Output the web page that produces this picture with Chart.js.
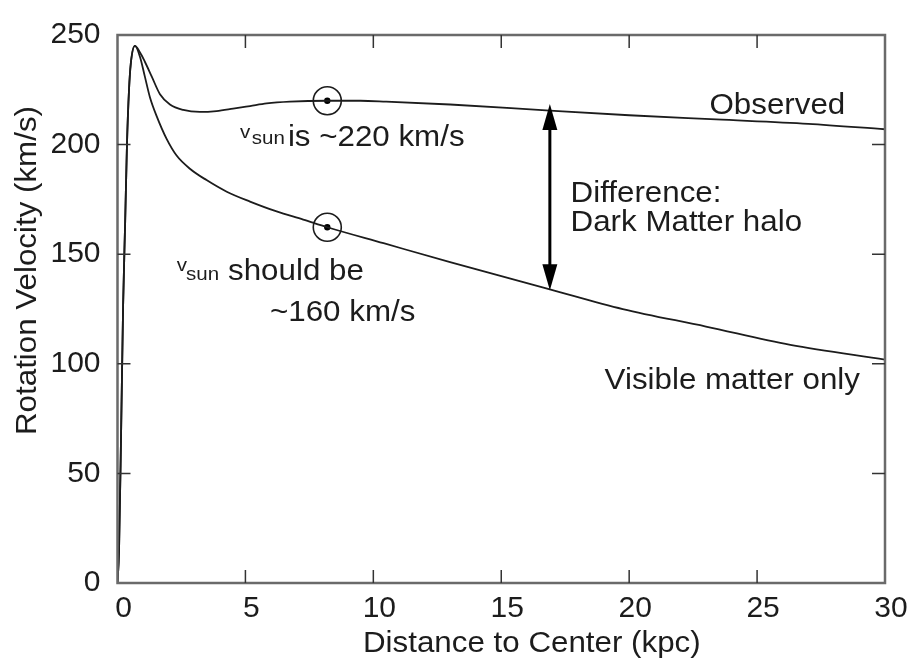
<!DOCTYPE html>
<html>
<head>
<meta charset="utf-8">
<script src="https://cdn.jsdelivr.net/npm/chart.js@4/dist/chart.umd.min.js"></script>
<style>
  html, body { margin: 0; padding: 0; background: #fff; }
  #rotation { display: block; }
</style>
</head>
<body>
<canvas id="rotation" width="912" height="660"></canvas>
<script>
const FONT = "'Liberation Sans', Arial, sans-serif";
const INK = "#1c1c1c";

// distance (kpc) vs rotation velocity (km/s)
const observedKpc = [0, 0.06, 0.14, 0.22, 0.3, 0.37, 0.45, 0.52, 0.68, 0.88, 1.07, 1.34, 1.66, 2.05, 2.57, 3.22, 3.87, 4.52, 5.18, 5.83, 6.74, 8.2, 9.5, 10.5, 13, 16.9, 20, 23.4, 27, 30];
const observedVel = [0, 15, 68, 127, 165, 200, 225, 237, 245, 242, 237.8, 231, 223, 218.3, 215.8, 214.9, 215.3, 216.4, 217.6, 218.8, 219.6, 220, 220, 219.6, 218.3, 215.5, 213.4, 211.5, 209.5, 207];

const visibleKpc = [0, 0.06, 0.14, 0.22, 0.3, 0.37, 0.45, 0.52, 0.68, 0.88, 1.07, 1.27, 1.53, 1.92, 2.31, 2.83, 3.48, 4.27, 5.18, 6.22, 7.26, 8.2, 10.4, 13, 16.9, 19.75, 23, 26.3, 30];
const visibleVel = [0, 15, 68, 127, 165, 200, 225, 237, 245, 240, 231, 221.5, 213, 202.6, 195, 189, 183.8, 178.5, 174, 169.5, 165.8, 162.3, 155, 146.4, 134, 125, 117, 108.6, 101.9];

// the sun's position on both curves
const sunKpc = [8.2, 8.2];
const sunVel = [220, 162.3];

const xTicks = [0, 5, 10, 15, 20, 25, 30];
const yTicks = [0, 50, 100, 150, 200, 250];

// dark matter arrow
const haloKpc = 16.9;
const haloTop = 218.5;
const haloBottom = 133.5;

const toPoints = (xs, ys) => xs.map((v, i) => ({ x: v, y: ys[i] }));

function stretched(ctx, str, x, y, size) {
    ctx.save();
    ctx.font = size + "px " + FONT;
    ctx.translate(x, y);
    ctx.scale(1.08, 1);
    ctx.fillText(str, 0, 0);
    ctx.restore();
}

const sketch = {
    id: "sketch",
    afterDraw(chart) {
        const { ctx, chartArea: a } = chart;
        const sx = chart.scales.x, sy = chart.scales.y;
        const X = v => sx.getPixelForValue(v);
        const Y = v => sy.getPixelForValue(v);

        ctx.save();
        // frame
        ctx.strokeStyle = "#6a6a6a";
        ctx.lineWidth = 2.5;
        ctx.strokeRect(a.left, a.top, a.right - a.left, a.bottom - a.top);

        // inward tick marks on all four sides
        ctx.strokeStyle = "#333";
        ctx.lineWidth = 1.5;
        const len = 13;
        ctx.beginPath();
        xTicks.slice(1, -1).forEach(t => {
            const p = X(t);
            ctx.moveTo(p, a.bottom); ctx.lineTo(p, a.bottom - len);
            ctx.moveTo(p, a.top); ctx.lineTo(p, a.top + len);
        });
        yTicks.slice(1, -1).forEach(t => {
            const p = Y(t);
            ctx.moveTo(a.left, p); ctx.lineTo(a.left + len, p);
            ctx.moveTo(a.right, p); ctx.lineTo(a.right - len, p);
        });
        ctx.stroke();

        // double headed arrow
        const ax = X(haloKpc), top = Y(haloTop), bot = Y(haloBottom);
        const head = 26, half = 7.5;
        ctx.strokeStyle = "#000";
        ctx.fillStyle = "#000";
        ctx.lineWidth = 3;
        ctx.beginPath();
        ctx.moveTo(ax, top + head - 4);
        ctx.lineTo(ax, bot - head + 4);
        ctx.stroke();
        ctx.beginPath();
        ctx.moveTo(ax, top); ctx.lineTo(ax - half, top + head); ctx.lineTo(ax + half, top + head);
        ctx.closePath(); ctx.fill();
        ctx.beginPath();
        ctx.moveTo(ax, bot); ctx.lineTo(ax - half, bot - head); ctx.lineTo(ax + half, bot - head);
        ctx.closePath(); ctx.fill();

        // texts
        ctx.fillStyle = INK;
        ctx.textBaseline = "alphabetic";
        ctx.textAlign = "left";

        stretched(ctx, "v", X(4.79), Y(203.2), 19);
        stretched(ctx, "sun", X(5.25), Y(200.5), 19);
        stretched(ctx, "is ~220 km/s", X(6.66), Y(199.5), 29);

        stretched(ctx, "v", X(2.32), Y(142.3), 19);
        stretched(ctx, "sun", X(2.68), Y(138.3), 19);
        stretched(ctx, "should be", X(4.32), Y(138.3), 29);
        stretched(ctx, "~160 km/s", X(5.96), Y(119.4), 29);

        stretched(ctx, "Observed", X(23.14), Y(214), 29);
        stretched(ctx, "Difference:", X(17.71), Y(173.9), 29);
        stretched(ctx, "Dark Matter halo", X(17.71), Y(160.4), 29);
        stretched(ctx, "Visible matter only", X(19.04), Y(88.3), 29);

        // axis titles
        stretched(ctx, "Distance to Center (kpc)", 363, 652, 29);
        ctx.save();
        ctx.translate(36, 435);
        ctx.rotate(-Math.PI / 2);
        stretched(ctx, "Rotation Velocity (km/s)", 0, 0, 29);
        ctx.restore();

        ctx.restore();
    }
};

const tickFont = { family: FONT, size: 30 };

new Chart(document.getElementById("rotation"), {
    type: "line",
    data: {
        datasets: [
            {
                label: "Observed",
                data: toPoints(observedKpc, observedVel),
                borderColor: INK,
                borderWidth: 1.8,
                cubicInterpolationMode: "monotone",
                pointRadius: 0,
                fill: false
            },
            {
                label: "Visible matter only",
                data: toPoints(visibleKpc, visibleVel),
                borderColor: INK,
                borderWidth: 1.8,
                cubicInterpolationMode: "monotone",
                pointRadius: 0,
                fill: false
            },
            {
                label: "Sun",
                data: toPoints(sunKpc, sunVel),
                showLine: false,
                pointRadius: 14,
                pointBorderWidth: 1.6,
                pointBorderColor: INK,
                pointBackgroundColor: "rgba(255,255,255,0)"
            },
            {
                label: "Sun dot",
                data: toPoints(sunKpc, sunVel),
                showLine: false,
                pointRadius: 3.2,
                pointBorderWidth: 0,
                pointBackgroundColor: "#000"
            }
        ]
    },
    options: {
        responsive: false,
        animation: false,
        layout: { padding: { left: 0, top: 27, right: 27, bottom: 0 } },
        plugins: {
            legend: { display: false },
            tooltip: { enabled: false }
        },
        scales: {
            x: {
                type: "linear",
                min: 0,
                max: 30,
                afterBuildTicks: s => { s.ticks = xTicks.map(v => ({ value: v })); },
                ticks: { color: INK, font: tickFont, padding: 8, labelOffset: 6 },
                grid: { display: false, drawTicks: false },
                border: { display: false },
                afterFit: s => { s.height = 77; }
            },
            y: {
                min: 0,
                max: 250,
                afterBuildTicks: s => { s.ticks = yTicks.map(v => ({ value: v })); },
                ticks: { color: INK, font: tickFont, padding: 17 },
                grid: { display: false, drawTicks: false },
                border: { display: false },
                afterFit: s => { s.width = 117.5; }
            }
        }
    },
    plugins: [sketch]
});
</script>
</body>
</html>
